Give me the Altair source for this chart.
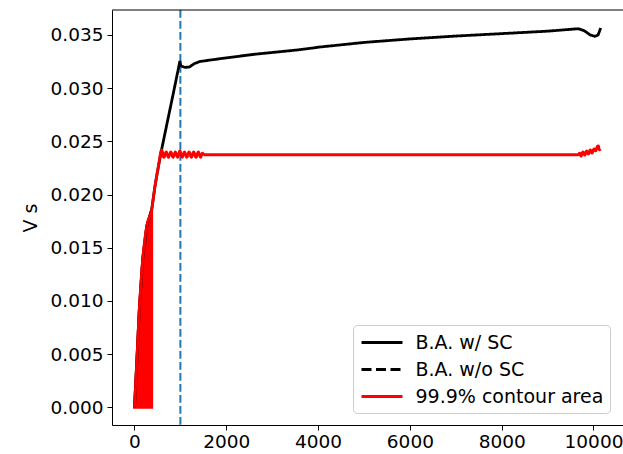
import altair as alt
import pandas as pd

# ---- series values ----
black_x = [0, 48, 105, 179, 266, 375, 447, 519, 580, 700, 850, 990, 1010, 1100,
           1200, 1300, 1427, 2000, 2600, 3606, 4041, 5000, 6000, 7000, 7963, 9000,
           9669, 9800, 9930, 10033, 10100, 10157]
black_y = [0.0, 0.0041, 0.0092, 0.0139, 0.0170, 0.0186, 0.0208, 0.0226, 0.0240,
           0.0265, 0.0296, 0.03255, 0.0321, 0.03195, 0.0320, 0.0323, 0.03251,
           0.03285, 0.03318, 0.03362, 0.03387, 0.03430, 0.03463, 0.03490, 0.03512,
           0.03536, 0.03559, 0.0354, 0.0350, 0.03487, 0.0350, 0.03566]

red_x = [0, 48, 105, 179, 266, 375, 447, 519, 593, 640, 690, 740, 790, 840, 890,
         940, 990, 1040, 1090, 1140, 1190, 1240, 1290, 1340, 1390, 1440, 1480,
         1520, 5000, 9669, 9700, 9730, 9770, 9810, 9850, 9890, 9930, 9970, 10010,
         10050, 10080, 10105, 10130, 10157]
red_y = [0.0, 0.0041, 0.0092, 0.0139, 0.0170, 0.0186, 0.0208, 0.0226, 0.0242,
         0.0235, 0.0240, 0.0235, 0.0240, 0.0235, 0.0240, 0.0235, 0.0241, 0.0235,
         0.0240, 0.0235, 0.0240, 0.0235, 0.0240, 0.0235, 0.0240, 0.0235, 0.0239,
         0.02374, 0.02374, 0.02374, 0.0239, 0.0236, 0.0240, 0.0237, 0.0241,
         0.0238, 0.0242, 0.0239, 0.0243, 0.0241, 0.0245, 0.02458, 0.0242, 0.02427]

# early oscillating part of the contour area, drawn as a filled band
fill_x = [0, 48, 105, 179, 266, 375]
fill_y = [0.0, 0.0041, 0.0092, 0.0139, 0.0170, 0.0186]

marker_x = [1000]

series_names = ["B.A. w/ SC", "B.A. w/o SC", "99.9% contour area"]
series_colors = ["black", "black", "red"]
series_dashes = [[1, 0], [10, 4.5], [1, 0]]

x_ticks = [0, 2000, 4000, 6000, 8000, 10000]
y_ticks = [0.0, 0.005, 0.010, 0.015, 0.020, 0.025, 0.030, 0.035]

# ---- tables ----
black_df = pd.DataFrame({"x": black_x, "y": black_y, "series": series_names[0]})
red_df = pd.DataFrame({"x": red_x, "y": red_y, "series": series_names[2]})
fill_df = pd.DataFrame({"x": fill_x, "y": fill_y})
marker_df = pd.DataFrame({"x": marker_x})

W, H = 511, 415
FONT = "DejaVu Sans"

xscale = alt.Scale(domain=[-490, 10643], nice=False, zero=False)
yscale = alt.Scale(domain=[-0.00167, 0.03735], nice=False, zero=False)

x_enc = alt.X("x:Q", scale=xscale,
              axis=alt.Axis(values=x_ticks, format="d", title=None))
y_enc = alt.Y("y:Q", scale=yscale,
              axis=alt.Axis(values=y_ticks, format=".3f", title="V s"))

color_enc = alt.Color("series:N",
                      scale=alt.Scale(domain=series_names, range=series_colors),
                      legend=alt.Legend(title=None))
dash_enc = alt.StrokeDash("series:N",
                          scale=alt.Scale(domain=series_names, range=series_dashes),
                          legend=alt.Legend(title=None))

# top frame line
frame_top = alt.Chart(marker_df).mark_rule(color="black", strokeWidth=1).encode(
    x=alt.value(0), x2=alt.value(W), y=alt.value(0)
)

vline = alt.Chart(marker_df).mark_rule(
    color="#1f77b4", strokeWidth=2, strokeDash=[7.7, 3.3]
).encode(x=alt.X("x:Q", scale=xscale))

band = alt.Chart(fill_df).mark_area(
    color="red", stroke="red", strokeWidth=2.8, opacity=1
).encode(x=x_enc, y=y_enc, y2=alt.datum(0))

black_line = alt.Chart(black_df).mark_line(strokeWidth=2.8).encode(
    x=x_enc, y=y_enc, color=color_enc, strokeDash=dash_enc
)
red_line = alt.Chart(red_df).mark_line(strokeWidth=2.8, interpolate="monotone").encode(
    x=x_enc, y=y_enc, color=color_enc, strokeDash=dash_enc
)

chart = alt.layer(vline, band, black_line, red_line, frame_top).properties(
    width=W, height=H,
    padding={"left": 112, "top": 10, "right": 0, "bottom": 29},
    autosize=alt.AutoSizeParams(type="none"),
    background="white",
).configure_view(
    stroke=None
).configure_axis(
    grid=False,
    domainColor="black", domainWidth=1,
    tickColor="black", tickWidth=1, tickSize=5,
    labelFont=FONT, labelFontSize=18.5, labelColor="black",
    titleFont=FONT, titleFontSize=19, titleColor="black", titleFontWeight="normal",
).configure_axisX(
    labelPadding=2
).configure_axisY(
    labelPadding=4, titlePadding=10
).configure_legend(
    orient="none", legendX=241, legendY=315,
    padding=6, fillColor="white", strokeColor="#cccccc", cornerRadius=4,
    labelFont=FONT, labelFontSize=19, labelColor="black", labelLimit=400,
    symbolType="M-2.05,0H2.05", symbolSize=400, symbolStrokeWidth=2.8,
    symbolOffset=11.5, labelOffset=22, rowPadding=5,
)

chart.save("out.html", embed_options={"renderer": "svg", "actions": False})
